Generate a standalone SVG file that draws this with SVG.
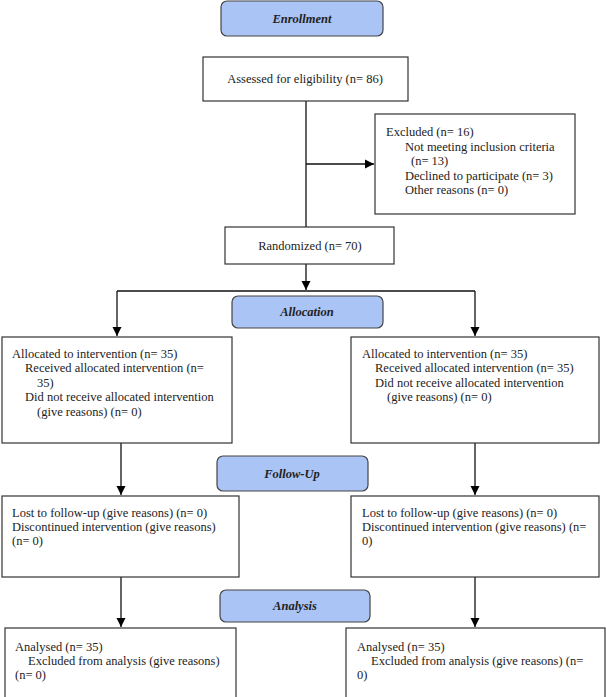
<svg xmlns="http://www.w3.org/2000/svg" width="606" height="697" viewBox="0 0 606 697">
<style>
.b{fill:#fff;stroke:#333;stroke-width:1.2}
.h{fill:#aac4f5;stroke:#444;stroke-width:1.2}
text{font-family:"Liberation Serif",serif;font-size:12.5px;fill:#222}
.t{font-weight:bold;font-style:italic;text-anchor:middle}
.c{text-anchor:middle}
.l{stroke:#111;stroke-width:1.3;fill:none}
</style>
<defs><marker id="a" viewBox="0 0 10 10" refX="10" refY="5" markerWidth="7" markerHeight="7" orient="auto"><path d="M0,0L10,5L0,10z" fill="#000"/></marker></defs>
<g id="connectors">
<path class="l" d="M306,101V290" marker-end="url(#a)"/>
<path class="l" d="M306,164H374" marker-end="url(#a)"/>
<path class="l" d="M117,291H475"/>
<path class="l" d="M117,291V336" marker-end="url(#a)"/>
<path class="l" d="M475,291V336" marker-end="url(#a)"/>
<path class="l" d="M121,443V495" marker-end="url(#a)"/>
<path class="l" d="M475,443V495" marker-end="url(#a)"/>
<path class="l" d="M121,577V627" marker-end="url(#a)"/>
<path class="l" d="M475,577V627" marker-end="url(#a)"/>
</g>
<g id="enrollment"><rect class="h" x="221" y="1" width="162" height="35" rx="6"/><text class="t" x="302" y="23">Enrollment</text></g>
<g id="assessed"><rect class="b" x="203" y="57" width="205" height="44"/><text class="c" x="305" y="83">Assessed for eligibility (n= 86)</text></g>
<g id="excluded"><rect class="b" x="375" y="114" width="200" height="100"/>
<text x="386" y="136">Excluded (n= 16)</text>
<text x="405" y="151">Not meeting inclusion criteria</text>
<text x="411" y="165">(n= 13)</text>
<text x="405" y="180">Declined to participate (n= 3)</text>
<text x="405" y="194">Other reasons (n= 0)</text></g>
<g id="randomized"><rect class="b" x="225" y="227" width="169" height="37"/><text class="c" x="310" y="250">Randomized (n= 70)</text></g>
<g id="allocation"><rect class="h" x="232" y="296" width="151" height="32" rx="6"/><text class="t" x="307" y="316">Allocation</text></g>
<g id="alloc-left"><rect class="b" x="2" y="337" width="230" height="106"/>
<text x="12" y="358">Allocated to intervention (n= 35)</text>
<text x="25" y="372">Received allocated intervention (n=</text>
<text x="37" y="387">35)</text>
<text x="25" y="401">Did not receive allocated intervention</text>
<text x="37" y="416">(give reasons) (n= 0)</text></g>
<g id="alloc-right"><rect class="b" x="351" y="337" width="248" height="106"/>
<text x="362" y="358">Allocated to intervention (n= 35)</text>
<text x="375" y="372">Received allocated intervention (n= 35)</text>
<text x="375" y="387">Did not receive allocated intervention</text>
<text x="387" y="401">(give reasons) (n= 0)</text></g>
<g id="followup"><rect class="h" x="217" y="456" width="151" height="35" rx="6"/><text class="t" x="292" y="478">Follow-Up</text></g>
<g id="lost-left"><rect class="b" x="2" y="496" width="237" height="81"/>
<text x="12" y="517">Lost to follow-up (give reasons) (n= 0)</text>
<text x="12" y="531">Discontinued intervention (give reasons)</text>
<text x="12" y="545">(n= 0)</text></g>
<g id="lost-right"><rect class="b" x="351" y="496" width="248" height="81"/>
<text x="362" y="517">Lost to follow-up (give reasons) (n= 0)</text>
<text x="362" y="531">Discontinued intervention (give reasons) (n=</text>
<text x="362" y="545">0)</text></g>
<g id="analysis"><rect class="h" x="220" y="590" width="150" height="32" rx="6"/><text class="t" x="295" y="610">Analysis</text></g>
<g id="an-left"><rect class="b" x="5" y="628" width="231" height="70"/>
<text x="15" y="651">Analysed (n= 35)</text>
<text x="28" y="665">Excluded from analysis (give reasons)</text>
<text x="15" y="679">(n= 0)</text></g>
<g id="an-right"><rect class="b" x="346" y="628" width="259" height="70"/>
<text x="357" y="651">Analysed (n= 35)</text>
<text x="371" y="665">Excluded from analysis (give reasons) (n=</text>
<text x="357" y="679">0)</text></g>
</svg>
